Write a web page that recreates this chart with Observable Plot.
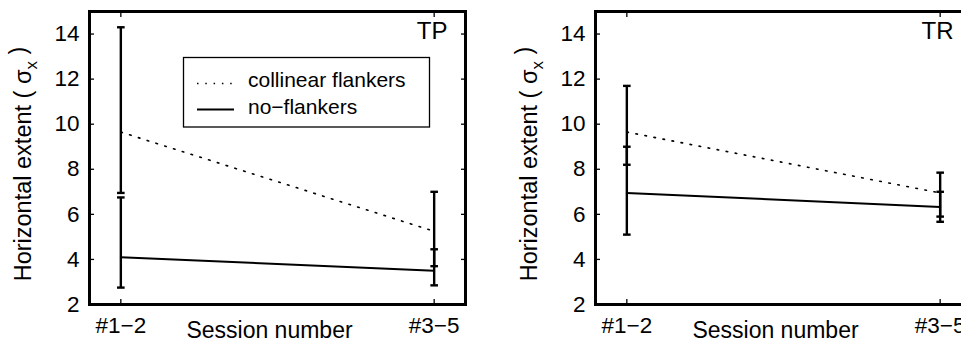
<!DOCTYPE html>
<html><head><meta charset="utf-8">
<script src="https://cdn.jsdelivr.net/npm/d3@7"></script>
<script src="https://cdn.jsdelivr.net/npm/@observablehq/plot@0.6"></script>
<style>
html,body{margin:0;padding:0;background:#fff;overflow:hidden;}
#wrap{position:relative;width:961px;height:342px;overflow:hidden;background:#fff;}
.panel{position:absolute;top:0;}
#legend{position:absolute;left:0;top:0;pointer-events:none;}
</style></head><body><div id="wrap"></div>
<script>
// ---- data ----
const sessions = [1, 2];
const sessionLabels = ["#1−2", "#3−5"];
const yTicks = [2, 4, 6, 8, 10, 12, 14];
const seriesNames = ["collinear flankers", "no−flankers"];
const panelNames = ["TP", "TR"];
const xLabel = "Session number";
const yLabelParts = ["Horizontal extent ( σ", "x", " )"];

const tpCollinearMean = [9.65, 5.25];
const tpCollinearLow  = [6.95, 3.7];
const tpCollinearHigh = [14.3, 7.0];
const tpNoFlankMean = [4.1, 3.5];
const tpNoFlankLow  = [2.75, 2.85];
const tpNoFlankHigh = [6.75, 4.45];

const trCollinearMean = [9.65, 6.95];
const trCollinearLow  = [8.2, 5.9];
const trCollinearHigh = [11.7, 7.85];
const trNoFlankMean = [6.95, 6.33];
const trNoFlankLow  = [5.1, 5.67];
const trNoFlankHigh = [9.0, 7.0];

// ---- build ----
const FONT = '"Liberation Sans", Arial, Helvetica, sans-serif';
function rows(series, mean, lo, hi) {
  return sessions.map((s, i) => ({session: s, series, mean: mean[i], lo: lo[i], hi: hi[i]}));
}
const capSymbol = {draw(ctx, size) { const w = Math.sqrt(size / Math.PI); ctx.moveTo(-w, 0); ctx.lineTo(w, 0); }};
const fmtX = d => sessionLabels[sessions.indexOf(d)];
const yLabelText = yLabelParts.join("");

function panel(name, coll, nof) {
  const data = [...coll, ...nof];
  const svg = Plot.plot({
    width: 480, height: 342,
    marginLeft: 89, marginRight: 15, marginTop: 11, marginBottom: 38,
    style: {fontFamily: FONT, fontSize: "22px", color: "#000", background: "transparent", overflow: "visible"},
    x: {domain: [0.9, 2.1]},
    y: {domain: [2, 15]},
    marks: [
      Plot.axisX(sessions, {tickSize: 0, tickPadding: 13, tickFormat: fmtX, label: null, fontSize: 22.5}),
      Plot.axisX(sessions, {anchor: "bottom", tickSize: -5, tickFormat: () => "", label: null, strokeWidth: 1.3}),
      Plot.axisX(sessions, {anchor: "top", tickSize: -5, tickFormat: () => "", label: null, strokeWidth: 1.3}),
      Plot.axisY(yTicks, {tickSize: 0, tickPadding: 10, label: null, fontSize: 22.5}),
      Plot.axisY(yTicks, {anchor: "left", tickSize: -5, tickFormat: () => "", label: null, strokeWidth: 1.3}),
      Plot.axisY(yTicks, {anchor: "right", tickSize: -5, tickFormat: () => "", label: null, strokeWidth: 1.3}),
      Plot.line(coll, {x: "session", y: "mean", stroke: "#000", strokeWidth: 1.6, strokeDasharray: "1.6 7.6"}),
      Plot.line(nof, {x: "session", y: "mean", stroke: "#000", strokeWidth: 2}),
      Plot.ruleX(data, {x: "session", y1: "lo", y2: "hi", stroke: "#000", strokeWidth: 2.4}),
      Plot.dot(data, {x: "session", y: "lo", symbol: capSymbol, r: 3.8, stroke: "#000", fill: "none", strokeWidth: 2.4}),
      Plot.dot(data, {x: "session", y: "hi", symbol: capSymbol, r: 3.8, stroke: "#000", fill: "none", strokeWidth: 2.4}),
      Plot.frame({stroke: "#000", strokeWidth: 3}),
      Plot.text([name], {text: d => d, frameAnchor: "top-right", textAnchor: "end", lineAnchor: "middle", dx: -18, dy: 20, fill: "#000", fontSize: 24}),
      Plot.text([xLabel], {text: d => d, frameAnchor: "bottom", textAnchor: "middle", lineAnchor: "middle", dx: -8, dy: 26, fill: "#000", fontSize: 23}),
      Plot.text([yLabelText], {text: d => d, frameAnchor: "left", rotate: -90, textAnchor: "middle", lineAnchor: "middle", dx: -66, dy: 6, fill: "#000", fontSize: 23.5})
    ]
  });
  // subscript on the y label
  d3.select(svg).selectAll("text").filter(function() { return this.textContent === yLabelText; })
    .each(function() {
      const t = d3.select(this);
      t.text(null);
      t.append("tspan").text(yLabelParts[0]);
      t.append("tspan").attr("dy", "0.35em").attr("font-size", "17px").text(yLabelParts[1]);
      t.append("tspan").attr("dy", "-0.45em").text(yLabelParts[2]);
    });
  return svg;
}

const wrap = document.getElementById("wrap");
const left = panel(panelNames[0],
  rows(seriesNames[0], tpCollinearMean, tpCollinearLow, tpCollinearHigh),
  rows(seriesNames[1], tpNoFlankMean, tpNoFlankLow, tpNoFlankHigh));
const right = panel(panelNames[1],
  rows(seriesNames[0], trCollinearMean, trCollinearLow, trCollinearHigh),
  rows(seriesNames[1], trNoFlankMean, trNoFlankLow, trNoFlankHigh));
left.classList.add("panel"); left.style.left = "0px";
right.classList.add("panel"); right.style.left = "506px";
wrap.appendChild(left);
wrap.appendChild(right);

// ---- legend (in the left panel) ----
const leg = d3.select(wrap).append("svg").attr("id", "legend").attr("width", 961).attr("height", 342)
  .style("font-family", FONT).style("font-size", "21px");
leg.append("rect").attr("x", 183.5).attr("y", 57.5).attr("width", 246).attr("height", 69.5)
  .attr("fill", "#fff").attr("stroke", "#000").attr("stroke-width", 1.3);
leg.append("line").attr("x1", 197).attr("x2", 234).attr("y1", 83.5).attr("y2", 83.5)
  .attr("stroke", "#000").attr("stroke-width", 1.5).attr("stroke-dasharray", "1.5 6.8");
leg.append("text").attr("x", 248).attr("y", 87).text(seriesNames[0]);
leg.append("line").attr("x1", 197).attr("x2", 234).attr("y1", 109.5).attr("y2", 109.5)
  .attr("stroke", "#000").attr("stroke-width", 2);
leg.append("text").attr("x", 248).attr("y", 113.5).text(seriesNames[1]);
</script>
</body></html>
